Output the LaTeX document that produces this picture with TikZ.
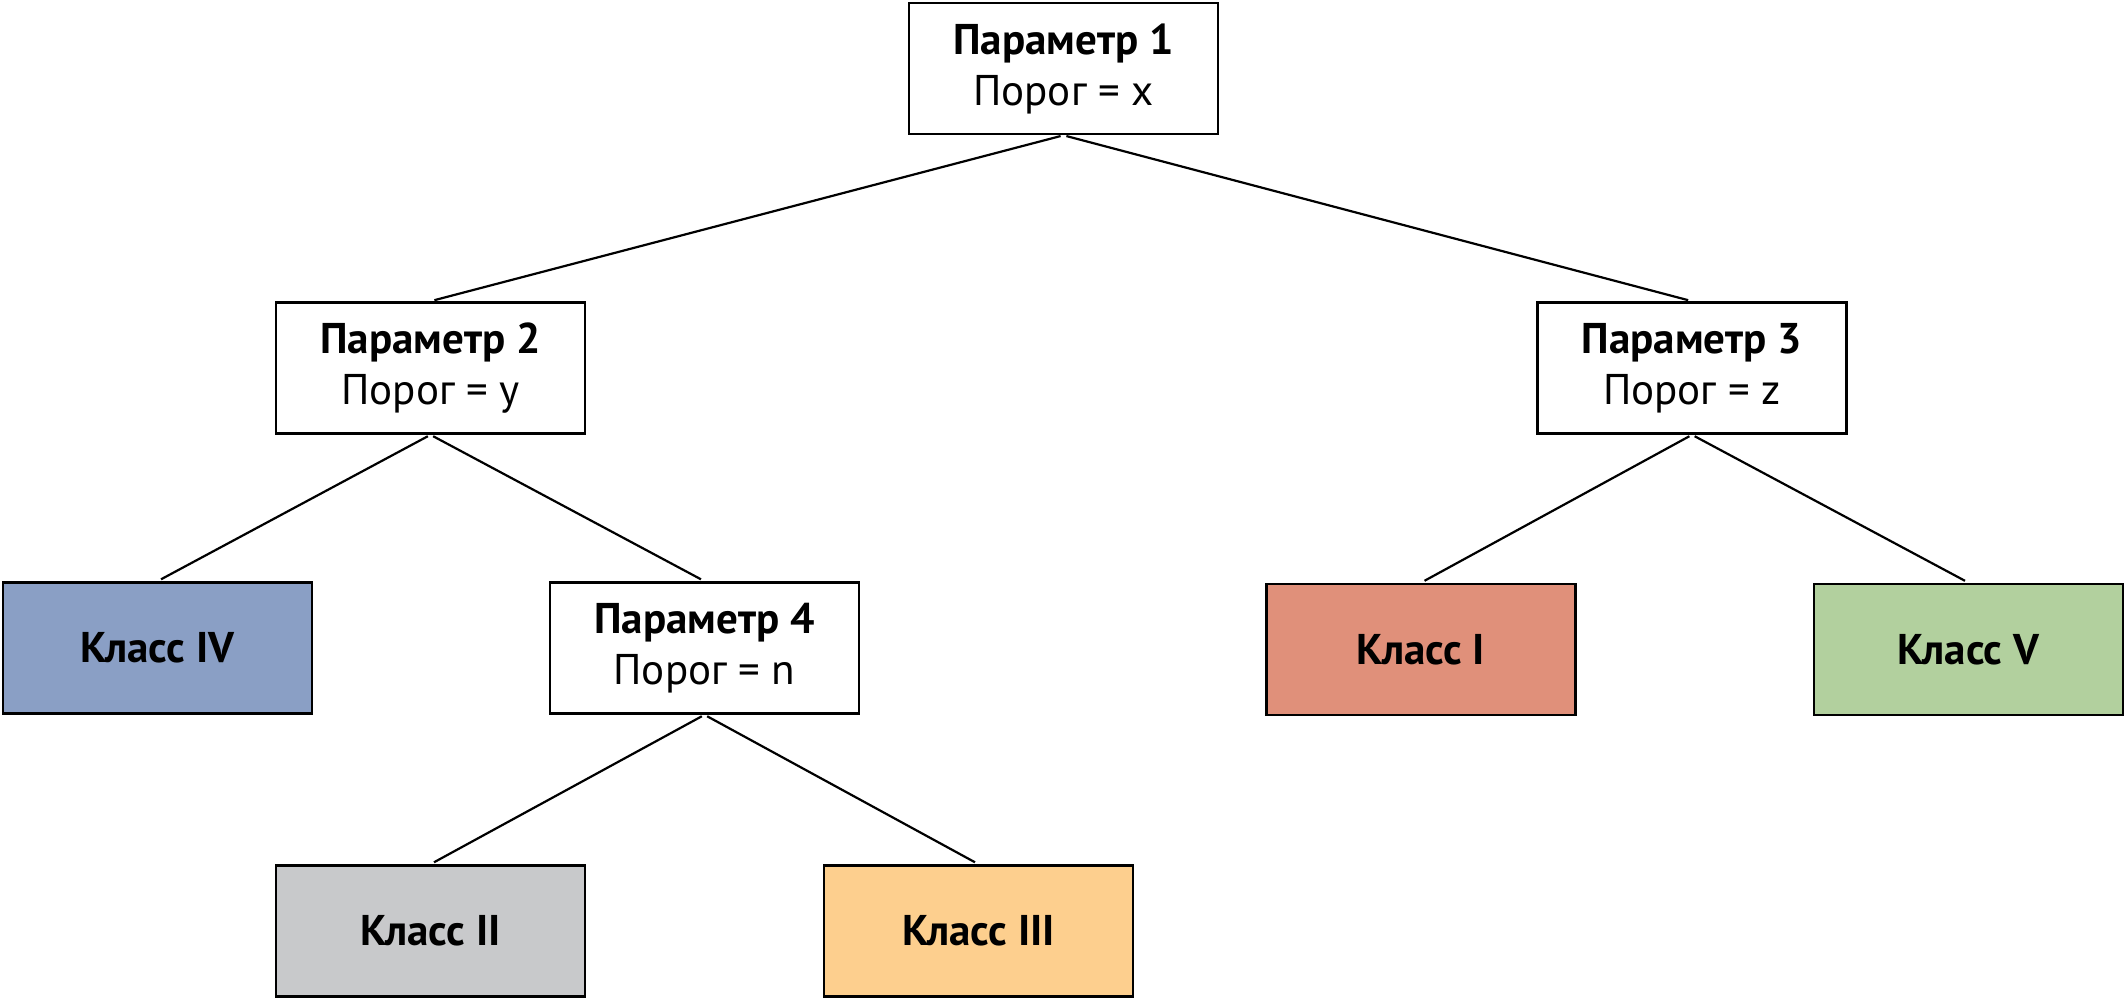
\documentclass[tikz,border=0pt]{standalone}
\usepackage{fontspec}
\setmainfont{PT Sans}
\definecolor{cIV}{HTML}{8A9FC5}
\definecolor{cI}{HTML}{E0907A}
\definecolor{cV}{HTML}{B2D09E}
\definecolor{cII}{HTML}{C8C9CB}
\definecolor{cIII}{HTML}{FDCF8E}
\tikzset{
  box/.style={draw=black, line width=2.6pt, minimum width=309pt, minimum height=131pt, inner sep=0pt, align=center, font=\fontsize{43}{51}\selectfont},
  conn/.style={draw=black, line width=2.2pt, shorten <=3pt, shorten >=4pt}
}
\begin{document}
\begin{tikzpicture}[x=1pt,y=1pt]
\useasboundingbox (0,0) rectangle (2126,-1000);
\node[box] (p1) at (1063.5,-68.5) {\textbf{Параметр 1}\\Порог = x};
\node[box] (p2) at (430.5,-368) {\textbf{Параметр 2}\\Порог = y};
\node[box] (p3) at (1692,-368) {\textbf{Параметр 3}\\Порог = z};
\node[box, fill=cIV] (k4) at (157.5,-648) {\textbf{Класс IV}};
\node[box] (p4) at (704.5,-648) {\textbf{Параметр 4}\\Порог = n};
\node[box, fill=cI] (k1) at (1421,-649.5) {\textbf{Класс I}};
\node[box, fill=cV] (k5) at (1968.5,-649.5) {\textbf{Класс V}};
\node[box, fill=cII] (k2) at (430.5,-931) {\textbf{Класс II}};
\node[box, fill=cIII] (k3) at (978.5,-931) {\textbf{Класс III}};
\draw[conn] (p1.south) -- (p2.north);
\draw[conn] (p1.south) -- (p3.north);
\draw[conn] (p2.south) -- (k4.north);
\draw[conn] (p2.south) -- (p4.north);
\draw[conn] (p3.south) -- (k1.north);
\draw[conn] (p3.south) -- (k5.north);
\draw[conn] (p4.south) -- (k2.north);
\draw[conn] (p4.south) -- (k3.north);
\end{tikzpicture}
\end{document}
